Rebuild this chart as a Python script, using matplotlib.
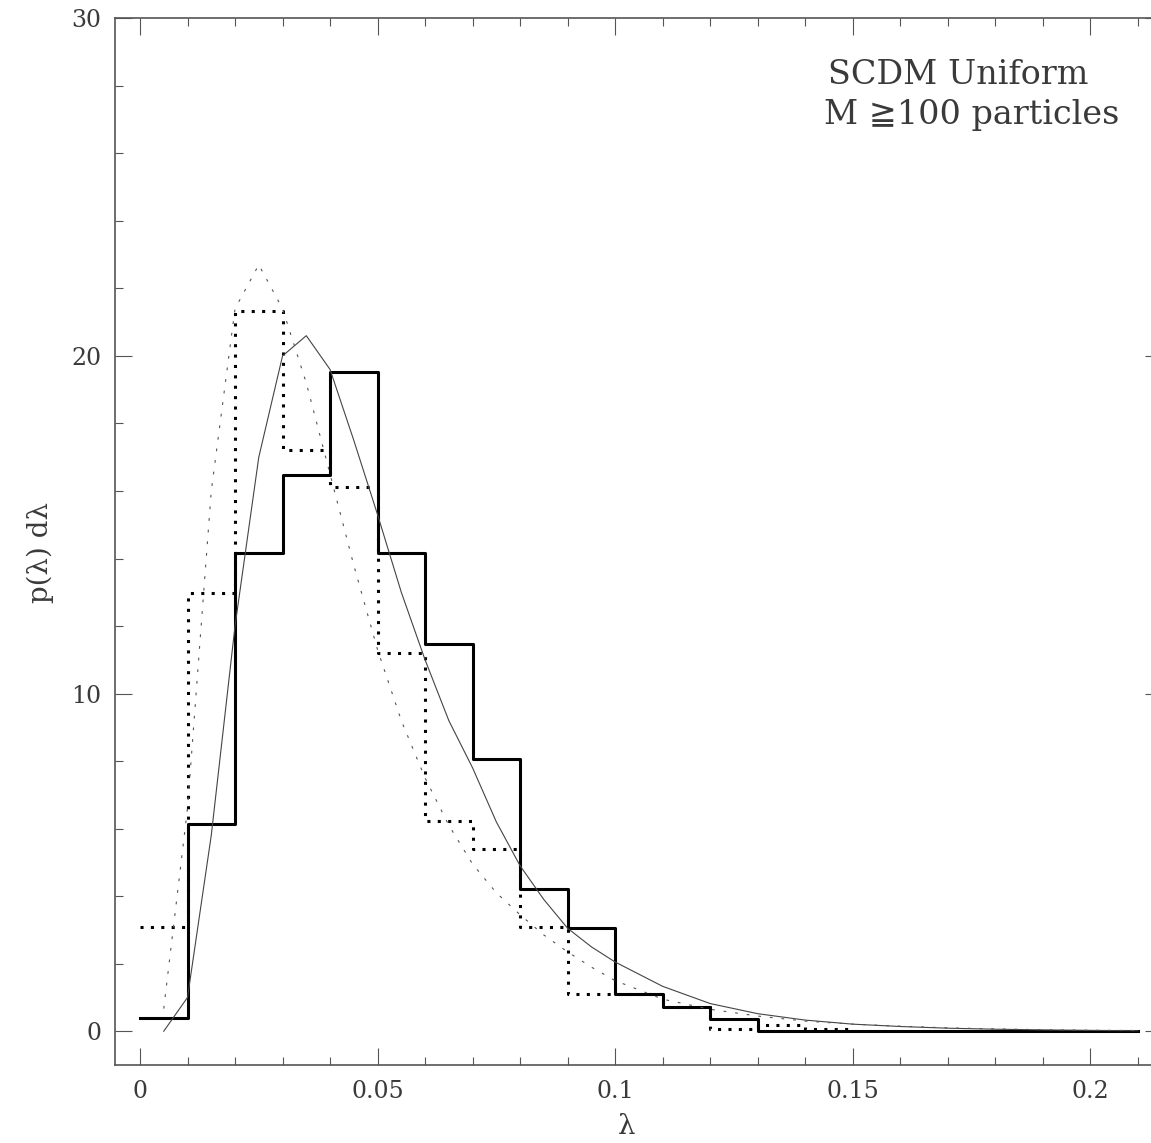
import matplotlib
matplotlib.use("Agg")
import matplotlib.pyplot as plt

# histogram bins (lambda)
bin_edges = [0.00, 0.01, 0.02, 0.03, 0.04, 0.05, 0.06, 0.07, 0.08, 0.09, 0.10,
             0.11, 0.12, 0.13, 0.14, 0.15, 0.16, 0.17, 0.18, 0.19, 0.20, 0.21]
hist_solid = [0.39, 6.13, 14.15, 16.47, 19.53, 14.17, 11.48, 8.05, 4.2, 3.06, 1.11,
              0.71, 0.37, 0.0, 0.0, 0.0, 0.0, 0.0, 0.0, 0.0, 0.0]
hist_dotted = [3.08, 12.98, 21.34, 17.2, 16.12, 11.2, 6.22, 5.39, 3.1, 1.09, 1.11,
               0.71, 0.07, 0.17, 0.07]

# fitted curves
fit_x = [0.005, 0.01, 0.015, 0.02, 0.025, 0.03, 0.035, 0.04, 0.045, 0.05, 0.055,
         0.06, 0.065, 0.07, 0.075, 0.08, 0.085, 0.09, 0.095, 0.10, 0.11, 0.12,
         0.13, 0.14, 0.15, 0.16, 0.17, 0.18, 0.19, 0.20, 0.21]
fit_solid = [0.0, 1.0, 5.8, 12.0, 17.0, 20.0, 20.6, 19.6, 17.5, 15.3, 13.0,
             11.0, 9.2, 7.8, 6.2, 4.9, 3.9, 3.05, 2.5, 2.05, 1.33, 0.82,
             0.52, 0.33, 0.21, 0.14, 0.09, 0.06, 0.04, 0.025, 0.015]
fit_dotted = [0.67, 6.6, 16.0, 21.4, 22.7, 21.4, 19.2, 16.5, 13.8, 11.3, 9.2,
              7.5, 6.1, 4.95, 4.1, 3.45, 2.85, 2.35, 1.9, 1.5, 0.95, 0.65,
              0.45, 0.3, 0.21, 0.15, 0.1, 0.07, 0.045, 0.03, 0.02]

xticks = [0, 0.05, 0.1, 0.15, 0.2]
xtick_labels = ["0", "0.05", "0.1", "0.15", "0.2"]
yticks = [0, 10, 20, 30]

txt = "#3a3a3a"
plt.rcParams['font.family'] = ['DejaVu Serif', 'DejaVu Sans']

fig = plt.figure(figsize=(11.51, 11.43), dpi=100)
# right edge of the frame sits just outside the picture, as in the original
ax = fig.add_axes([115 / 1151, 1 - 1065 / 1143, 1047 / 1151, 1046.7 / 1143])

ax.step(bin_edges, hist_solid + [hist_solid[-1]], where='post', color='black', lw=2.2)
ax.step(bin_edges[:len(hist_dotted) + 1], hist_dotted + [hist_dotted[-1]], where='post',
        color='black', lw=2.2, linestyle=(0, (1, 2.4)))
ax.plot(fit_x, fit_solid, color='#444444', lw=0.8)
ax.plot(fit_x, fit_dotted, color='#555555', lw=0.8, linestyle=(0, (2.5, 8)))

ax.set_xlim(-0.00526, 0.2151)
ax.set_ylim(-1, 30)
ax.set_xticks(xticks)
ax.set_xticklabels(xtick_labels)
ax.set_xticks([i / 100 for i in range(0, 22)], minor=True)
ax.set_yticks(yticks)
ax.set_yticks(list(range(0, 31, 2)), minor=True)

ax.tick_params(which='both', direction='in', top=True, right=True, colors='#555555',
               labelcolor=txt, labelsize=17, width=0.8)
ax.tick_params(which='major', length=12)
ax.tick_params(which='minor', length=6)
ax.tick_params(axis='x', pad=11)
ax.tick_params(axis='y', pad=10)
for s in ax.spines.values():
    s.set_color('#555555')
    s.set_linewidth(1.2)
ax.spines['right'].set_visible(False)

ax.set_xlabel("λ", fontsize=20, color=txt)
ax.xaxis.set_label_coords((627 - 115) / 1047, -0.046)
ax.set_ylabel("p(λ) dλ", fontsize=20, color=txt, va='center')
ax.yaxis.set_label_coords(-75 / 1047, 0.49)

ax.text((958 - 115) / 1047, 0.946, "SCDM Uniform", transform=ax.transAxes,
        ha='center', va='center', fontsize=24, color=txt)
ax.text((972 - 115) / 1047, 0.9076, "M ≧100 particles", transform=ax.transAxes,
        ha='center', va='center', fontsize=24, color=txt)

fig.savefig("out.png", dpi=100)
